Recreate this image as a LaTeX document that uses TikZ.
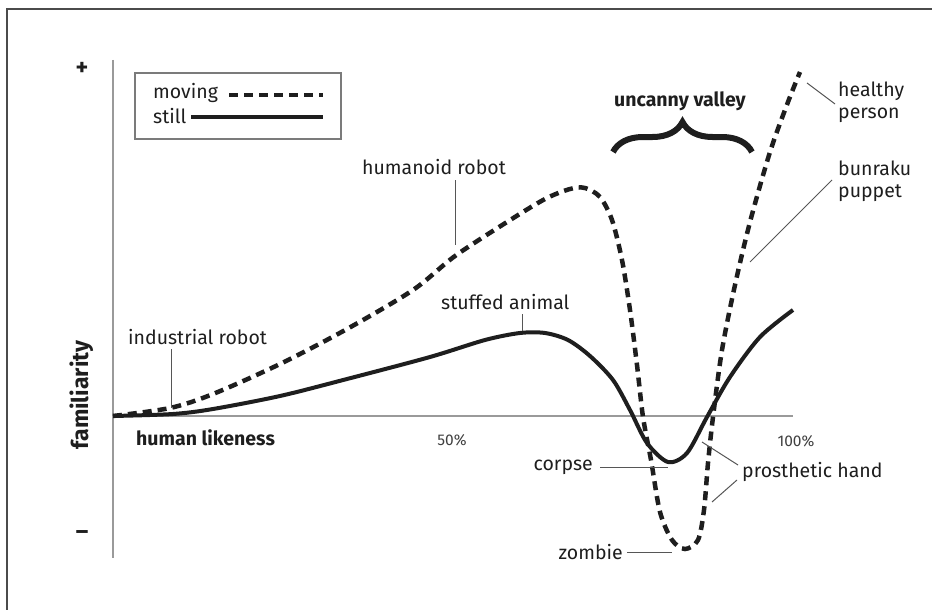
\documentclass[tikz,border=0pt]{standalone}
\usepackage{fontspec}
\setmainfont{Fira Sans}
\usetikzlibrary{decorations.pathreplacing}
\definecolor{ink}{HTML}{1E1E1E}
\definecolor{axisgray}{HTML}{9A9A9A}
\begin{document}
\begin{tikzpicture}[x=1pt, y=-1pt,
    lbl/.style={font=\fontsize{19.5}{22}\selectfont, text=ink, inner sep=0pt},
    boldlbl/.style={lbl, font=\fontsize{19.5}{22}\selectfont\bfseries},
    small/.style={font=\fontsize{15.5}{17}\selectfont, text=ink!85, inner sep=0pt},
    leader/.style={draw=ink!75, line width=1pt},
    moving/.style={draw=ink, line width=4.5pt, dash pattern=on 9pt off 6pt},
    still/.style={draw=ink, line width=4pt},
    axis/.style={draw=axisgray, line width=1.6pt}
  ]
  \useasboundingbox (0,0) rectangle (932,610);

  % Frame and axes
  \draw[ink!80, line width=1.5pt] (7,610) -- (7,9) -- (932,9);
  \coordinate (ytop) at (113,60);
  \coordinate (ybot) at (113,558);
  \coordinate (orig) at (113,416);
  \coordinate (xend) at (793,416);
  \draw[axis] (ytop) -- (ybot);
  \draw[axis] (orig) -- (xend);

  \node[lbl, font=\fontsize{24}{26}\selectfont\bfseries] (plus) at (82,69) {+};
  \node[lbl, font=\fontsize{24}{26}\selectfont\bfseries] (minus) at (82,535) {–};
  \node[lbl, font=\fontsize{23}{26}\selectfont\bfseries, rotate=90] (fam) at (82,395) {familiarity};
  \node[boldlbl, anchor=west] (hl) at (136,438) {human likeness};
  \node[small] (fifty) at (452,440) {50\%};
  \node[small] (hundred) at (796,441) {100\%};

  % Legend
  \draw[axisgray!80!black, line width=1.2pt] (135,73) rectangle (341,139);
  \node[lbl, anchor=west] (mov) at (153,93) {moving};
  \node[lbl, anchor=west] (sti) at (153,116) {still};
  \draw[moving] (229,95) -- (323,95);
  \draw[still, line width=4.5pt] (191,117) -- (323,117);

  % Curves
  \draw[still, line join=round] plot[smooth] coordinates {
    (113,416) (173,414) (213,409) (280,396) (347,379) (430,357) (485,340)
    (520,333) (545,333) (568,340) (590,356) (613,380) (630,410) (647,443)
    (668,462) (687,453) (707,417) (730,377) (760,337) (793,310)};
  \draw[moving] plot[smooth] coordinates {
    (113,416) (170,408) (213,394) (280,364) (347,329) (413,290) (455,256)
    (507,222) (545,199) (570,189) (585,188) (600,197) (612,220) (622,260)
    (630,310) (637,365) (643,417) (651,460) (660,512) (672,540) (685,549)
    (698,540) (704,510) (708,463) (713,417) (722,350) (735,285) (750,222)
    (770,152) (788,102) (800,72)};

  % Uncanny valley
  \node[boldlbl] (uv) at (680,101) {uncanny valley};
  \coordinate (bl) at (613,152);
  \coordinate (br) at (752,152);
  \draw[ink, line width=6pt, decorate, decoration={brace, amplitude=30pt}] (bl) -- (br);

  % Labels and leaders
  \node[lbl, anchor=west] (ind) at (128,337) {industrial robot};
  \coordinate (indA) at (171,349);
  \coordinate (indB) at (171,408);
  \draw[leader] (indA) -- (indB);

  \node[lbl, anchor=west] (hr) at (362,167) {humanoid robot};
  \coordinate (hrA) at (455,180);
  \coordinate (hrB) at (455,245);
  \draw[leader] (hrA) -- (hrB);

  \node[lbl, anchor=west] (sa) at (441,302) {stuffed animal};
  \coordinate (saA) at (522,314);
  \coordinate (saB) at (522,331);
  \draw[leader] (saA) -- (saB);

  \node[lbl, anchor=west, align=left] (hp) at (838,102) {healthy\\person};
  \coordinate (hpA) at (835,104);
  \coordinate (hpB) at (807,83);
  \draw[leader] (hpA) -- (hpB);

  \node[lbl, anchor=west, align=left] (bp) at (838,181) {bunraku\\puppet};
  \coordinate (bpA) at (832,180);
  \coordinate (bpB) at (750,262);
  \draw[leader] (bpA) -- (bpB);

  \node[lbl, anchor=east] (co) at (593,467) {corpse};
  \coordinate (coB) at (668,467);
  \draw[leader] ([xshift=7pt]co.east) -- (coB);

  \node[lbl, anchor=east] (zo) at (623,552) {zombie};
  \coordinate (zoB) at (672,552);
  \draw[leader] ([xshift=4pt]zo.east) -- (zoB);

  \node[lbl, anchor=west] (ph) at (742,472) {prosthetic hand};
  \coordinate (phA) at (738,465);
  \coordinate (phB) at (702,442);
  \coordinate (phC) at (737,480);
  \coordinate (phD) at (712,502);
  \draw[leader] (phA) -- (phB);
  \draw[leader] (phC) -- (phD);
\end{tikzpicture}
\end{document}
